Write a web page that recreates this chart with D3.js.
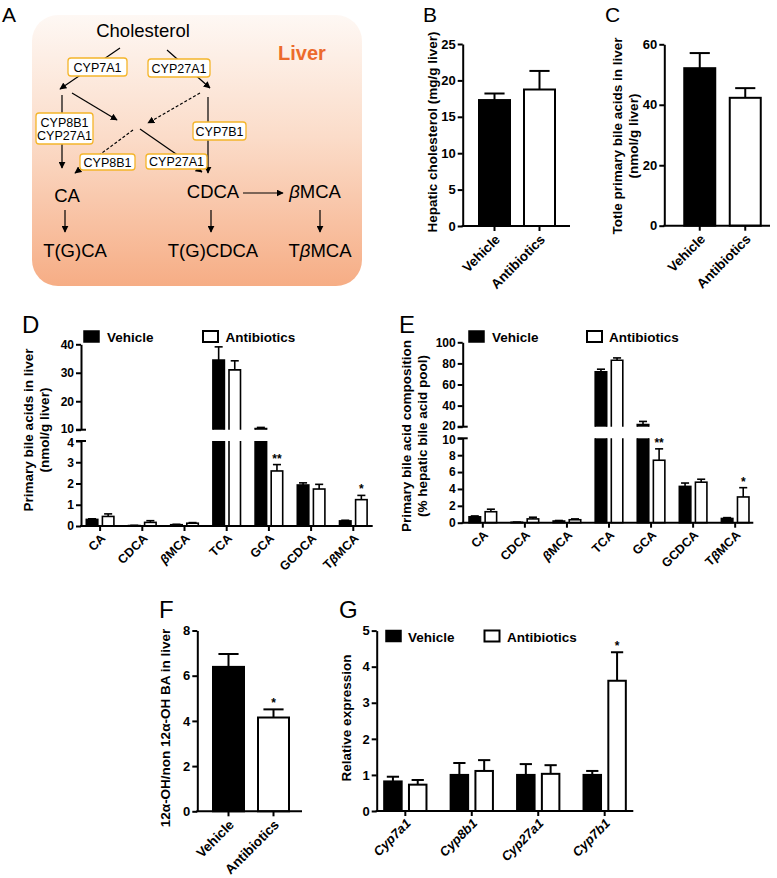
<!DOCTYPE html>
<html><head><meta charset="utf-8">
<script src="https://cdn.jsdelivr.net/npm/d3@7"></script>
<style>body{margin:0;background:#fff}svg{display:block}</style>
</head><body>
<svg id="fig" width="777" height="878"></svg>
<script>
// ---------------- DATA ----------------
const groups = ["Vehicle", "Antibiotics"];
// B
const cholesterolMean = [17.3, 18.75];
const cholesterolSem = [0.9, 2.55];
const cholesterolTicks = [0, 5, 10, 15, 20, 25];
// C
const totalPrimaryMean = [52.1, 42.3];
const totalPrimarySem = [5.0, 3.2];
const totalPrimaryTicks = [0, 20, 40, 60];
// D
const bileAcids = ["CA", "CDCA", "βMCA", "TCA", "GCA", "GCDCA", "TβMCA"];
const liverVehicle = [0.31, 0.02, 0.06, 34.5, 10.4, 1.93, 0.24];
const liverVehicleSem = [0.03, 0.01, 0.02, 4.6, 0.4, 0.1, 0.03];
const liverAntibiotics = [0.45, 0.17, 0.13, 31.0, 2.59, 1.74, 1.24];
const liverAntibioticsSem = [0.12, 0.08, 0.03, 3.2, 0.3, 0.22, 0.2];
const liverSig = ["", "", "", "", "**", "", "*"];
const liverTicksLow = [0, 1, 2, 3, 4];
const liverTicksHigh = [10, 20, 30, 40];
// E
const compVehicle = [0.7, 0.05, 0.2, 72, 22, 4.3, 0.5];
const compVehicleSem = [0.1, 0.02, 0.06, 2.5, 3.0, 0.4, 0.1];
const compAntibiotics = [1.3, 0.45, 0.35, 83, 7.4, 4.8, 3.05];
const compAntibioticsSem = [0.3, 0.2, 0.1, 2.2, 1.35, 0.35, 1.1];
const compSig = ["", "", "", "", "**", "", "*"];
const compTicksLow = [0, 2, 4, 6, 8, 10];
const compTicksHigh = [20, 40, 60, 80, 100];
// F
const ratioMean = [6.39, 4.15];
const ratioSem = [0.57, 0.36];
const ratioSig = ["", "*"];
const ratioTicks = [0, 2, 4, 6, 8];
// G
const genes = ["Cyp7a1", "Cyp8b1", "Cyp27a1", "Cyp7b1"];
const geneVehicle = [0.82, 1.0, 1.0, 1.0];
const geneVehicleSem = [0.13, 0.33, 0.3, 0.11];
const geneAntibiotics = [0.73, 1.11, 1.03, 3.61];
const geneAntibioticsSem = [0.13, 0.3, 0.24, 0.79];
const geneSig = ["", "", "", "*"];
const geneTicks = [0, 1, 2, 3, 4, 5];

// ---------------- HELPERS ----------------
const FONT = '"Liberation Sans", Arial, Helvetica, sans-serif';
const svg = d3.select("#fig");
svg.append("rect").attr("width", 777).attr("height", 878).attr("fill", "#fff");

function styleAxis(a, size) {
  a.attr("font-family", FONT);
  a.select(".domain").attr("stroke", "#000").attr("stroke-width", 2);
  a.selectAll(".tick line").attr("stroke", "#000").attr("stroke-width", 2);
  a.selectAll(".tick text").attr("font-family", FONT).attr("font-weight", "bold")
    .attr("font-size", size || 13).attr("fill", "#000");
}
function yAxis(scale, ticks, x, size) {
  const a = svg.append("g").attr("transform", `translate(${x},0)`)
    .call(d3.axisLeft(scale).tickValues(ticks).tickFormat(d3.format("d"))
      .tickSize(5).tickSizeOuter(0).tickPadding(2));
  styleAxis(a, size);
  return a;
}
function xAxis(band, y, x0, x1, opts) {
  svg.append("line").attr("x1", x0 - 1).attr("x2", x1).attr("y1", y).attr("y2", y)
    .attr("stroke", "#000").attr("stroke-width", 2);
  const a = svg.append("g").attr("transform", `translate(0,${y})`)
    .call(d3.axisBottom(band).tickSize(5).tickSizeOuter(0));
  a.select(".domain").remove();
  styleAxis(a, opts.size);
  a.selectAll(".tick text")
    .attr("y", 0).attr("dy", "0.35em").attr("text-anchor", "end")
    .attr("transform", `translate(${opts.dx},${opts.dy}) rotate(-45)`)
    .attr("font-style", opts.italic ? "italic" : "normal")
    .each(function (d) {
      const t = d3.select(this);
      if (d.includes("β")) {
        t.text(null);
        const parts = d.split("β");
        t.append("tspan").text(parts[0]);
        t.append("tspan").attr("font-style", "italic").text("β");
        t.append("tspan").text(parts[1]);
      }
    });
  return a;
}
function yTitle(lines, cx, cy, size) {
  lines.forEach((l, i) => {
    svg.append("text").attr("transform", `translate(${l.x},${cy}) rotate(-90)`)
      .attr("text-anchor", "middle").attr("dy", "0.35em")
      .attr("font-family", FONT).attr("font-weight", "bold").attr("font-size", size || 13.5)
      .text(l.t);
  });
}
function panelLetter(t, x, y, size) {
  svg.append("text").attr("x", x).attr("y", y).attr("font-family", FONT)
    .attr("font-size", size).text(t);
}
function errBar(cx, yv, ye, capW, sw) {
  svg.append("line").attr("x1", cx).attr("x2", cx).attr("y1", yv).attr("y2", ye)
    .attr("stroke", "#000").attr("stroke-width", sw);
  svg.append("line").attr("x1", cx - capW / 2).attr("x2", cx + capW / 2).attr("y1", ye).attr("y2", ye)
    .attr("stroke", "#000").attr("stroke-width", sw);
}
function star(t, cx, y) {
  svg.append("text").attr("x", cx).attr("y", y).attr("text-anchor", "middle")
    .attr("font-family", FONT).attr("font-weight", "bold").attr("font-size", 12).text(t);
}
function simpleBars(band, y, means, sems, sigs, bw) {
  const fills = ["#000", "#fff"];
  groups.forEach((gname, i) => {
    const cx = band(gname) + band.bandwidth() / 2;
    const ye = y(means[i] + sems[i]);
    errBar(cx, y(means[i]), ye, bw * 0.65, 2);
    svg.append("rect").attr("x", cx - bw / 2).attr("y", y(means[i]))
      .attr("width", bw).attr("height", y(0) - y(means[i]))
      .attr("fill", fills[i]).attr("stroke", "#000").attr("stroke-width", 2);
    if (sigs && sigs[i]) star(sigs[i], cx, ye - 2);
  });
}
function legend(x1, x2, xt1, xt2, y, h) {
  svg.append("rect").attr("x", x1).attr("y", y).attr("width", 15).attr("height", h)
    .attr("fill", "#000").attr("stroke", "#000").attr("stroke-width", 1.5);
  svg.append("text").attr("x", xt1).attr("y", y + h).attr("font-family", FONT)
    .attr("font-weight", "bold").attr("font-size", 13.5).text(groups[0]);
  svg.append("rect").attr("x", x2).attr("y", y).attr("width", 15).attr("height", h)
    .attr("fill", "#fff").attr("stroke", "#000").attr("stroke-width", 2);
  svg.append("text").attr("x", xt2).attr("y", y + h).attr("font-family", FONT)
    .attr("font-weight", "bold").attr("font-size", 13.5).text(groups[1]);
}
// grouped bars, optionally with broken axis
function groupedBars(cats, band, series, low, high, sigs, bw, gap, sw) {
  const lowMax = low.domain()[1];
  const highMin = high ? high.domain()[0] : Infinity;
  cats.forEach((c, i) => {
    const cx = band(c) + band.bandwidth() / 2;
    series.forEach((s, k) => {
      const v = s.vals[i], e = s.errs[i];
      const bx = k === 0 ? cx - gap / 2 - bw : cx + gap / 2;
      const bc = bx + bw / 2;
      const base = low(0);
      const topLow = low(Math.min(v, lowMax));
      let yv, ye;
      if (high && v > highMin) { yv = high(v); ye = high(v + e); }
      else { yv = low(v); ye = low(v + e); }
      errBar(bc, yv, ye, bw * 0.7, sw);
      if (high && v > lowMax) {
        svg.append("path").attr("d", `M${bx},${topLow}L${bx},${base}L${bx + bw},${base}L${bx + bw},${topLow}`)
          .attr("fill", s.fill).attr("stroke", "#000").attr("stroke-width", sw);
        const hb = high(highMin);
        svg.append("path").attr("d", `M${bx},${hb}L${bx},${yv}L${bx + bw},${yv}L${bx + bw},${hb}`)
          .attr("fill", s.fill).attr("stroke", "#000").attr("stroke-width", sw);
      } else {
        svg.append("rect").attr("x", bx).attr("y", topLow).attr("width", bw)
          .attr("height", Math.max(0, base - topLow))
          .attr("fill", s.fill).attr("stroke", "#000").attr("stroke-width", sw);
      }
      if (k === 1 && sigs[i]) star(sigs[i], bc, ye - 2);
    });
  });
}
function brokenYAxis(low, high, tl, th, x) {
  const aLow = yAxis(low, tl, x, 12);
  const aHigh = yAxis(high, th, x, 12);
  // nudge the two labels at the break apart slightly
  aLow.selectAll(".tick").filter(d => d === low.domain()[1]).select("text").attr("dy", "0.45em");
  aHigh.selectAll(".tick").filter(d => d === high.domain()[0]).select("text").attr("dy", "0.22em");
  [low(low.domain()[1]), high(high.domain()[0])].forEach(y => {
    svg.append("line").attr("x1", x - 5).attr("x2", x + 5).attr("y1", y).attr("y2", y)
      .attr("stroke", "#000").attr("stroke-width", 2);
  });
}

// ---------------- PANEL A ----------------
const defs = svg.append("defs");
const grad = defs.append("linearGradient").attr("id", "liverGrad").attr("x1", 0).attr("y1", 0).attr("x2", 0).attr("y2", 1);
grad.append("stop").attr("offset", "0%").attr("stop-color", "#fef8f4");
grad.append("stop").attr("offset", "45%").attr("stop-color", "#fbdcc9");
grad.append("stop").attr("offset", "100%").attr("stop-color", "#f6ad85");
defs.append("marker").attr("id", "arr").attr("viewBox", "0 0 10 10").attr("refX", 9).attr("refY", 5)
  .attr("markerWidth", 7).attr("markerHeight", 7).attr("markerUnits", "userSpaceOnUse").attr("orient", "auto")
  .append("path").attr("d", "M0,0L10,5L0,10Z").attr("fill", "#000");

panelLetter("A", 2, 22, 21);
svg.append("rect").attr("x", 32).attr("y", 15).attr("width", 330).attr("height", 271).attr("rx", 26)
  .attr("fill", "url(#liverGrad)");

const pathways = [
  { p: [120, 48, 60, 89], dash: false },
  { p: [167, 50, 210, 88], dash: false },
  { p: [62, 95, 62, 168], dash: false },
  { p: [72, 93, 117, 120], dash: false },
  { p: [200, 93, 148, 123], dash: true },
  { p: [208, 97, 208, 173], dash: false },
  { p: [133, 130, 75, 173], dash: true },
  { p: [140, 129, 202, 172], dash: false },
  { p: [243, 193, 283, 193], dash: false },
  { p: [65, 210, 65, 232], dash: false },
  { p: [211, 210, 211, 232], dash: false },
  { p: [320, 210, 320, 232], dash: false }
];
pathways.forEach(a => {
  svg.append("line").attr("x1", a.p[0]).attr("y1", a.p[1]).attr("x2", a.p[2]).attr("y2", a.p[3])
    .attr("stroke", "#000").attr("stroke-width", 1.2)
    .attr("stroke-dasharray", a.dash ? "3,2" : null).attr("marker-end", "url(#arr)");
});
const enzymes = [
  { t: ["CYP7A1"], x: 68, y: 58, w: 59, h: 18 },
  { t: ["CYP27A1"], x: 148, y: 59, w: 62, h: 18 },
  { t: ["CYP8B1", "CYP27A1"], x: 36, y: 113, w: 57, h: 31 },
  { t: ["CYP7B1"], x: 193, y: 122, w: 53, h: 18 },
  { t: ["CYP8B1"], x: 80, y: 154, w: 55, h: 16 },
  { t: ["CYP27A1"], x: 146, y: 154, w: 61, h: 15 }
];
enzymes.forEach(e => {
  svg.append("rect").attr("x", e.x).attr("y", e.y).attr("width", e.w).attr("height", e.h).attr("rx", 3)
    .attr("fill", "#fff").attr("stroke", "#f4b52a").attr("stroke-width", 1.3);
  e.t.forEach((t, i) => {
    svg.append("text").attr("x", e.x + e.w / 2).attr("y", e.y + e.h / 2 + (i - (e.t.length - 1) / 2) * 13)
      .attr("dy", "0.36em").attr("text-anchor", "middle").attr("font-family", FONT).attr("font-size", 12.5).text(t);
  });
});
const metabolites = [
  { t: "Cholesterol", x: 143, y: 37 },
  { t: "CA", x: 67, y: 202 },
  { t: "CDCA", x: 213, y: 198 },
  { t: "βMCA", x: 315, y: 198 },
  { t: "T(G)CA", x: 75, y: 257 },
  { t: "T(G)CDCA", x: 213, y: 257 },
  { t: "TβMCA", x: 320, y: 257 }
];
metabolites.forEach(m => {
  const t = svg.append("text").attr("x", m.x).attr("y", m.y).attr("text-anchor", "middle")
    .attr("font-family", FONT).attr("font-size", 18.5);
  if (m.t.includes("β")) {
    const parts = m.t.split("β");
    t.append("tspan").text(parts[0]);
    t.append("tspan").attr("font-style", "italic").text("β");
    t.append("tspan").text(parts[1]);
  } else t.text(m.t);
});
svg.append("text").attr("x", 278).attr("y", 60).attr("font-family", FONT).attr("font-weight", "bold")
  .attr("font-size", 20).attr("fill", "#ec6a2b").text("Liver");

// ---------------- PANEL B ----------------
panelLetter("B", 423, 22, 21);
const yB = d3.scaleLinear().domain([0, 25]).range([226, 44]);
const xB = d3.scaleBand().domain(groups).range([472, 562]);
simpleBars(xB, yB, cholesterolMean, cholesterolSem, null, 31);
yAxis(yB, cholesterolTicks, 462.7);
xAxis(xB, 226, 462.7, 570, { dx: 3, dy: 11, size: 13.5 });
yTitle([{ t: "Hepatic cholesterol  (mg/g liver)", x: 432 }], 0, 132, 13.5);

// ---------------- PANEL C ----------------
panelLetter("C", 605, 22, 21);
const yC = d3.scaleLinear().domain([0, 60]).range([225.7, 44.3]);
const xC = d3.scaleBand().domain(groups).range([677, 768]);
simpleBars(xC, yC, totalPrimaryMean, totalPrimarySem, null, 31);
yAxis(yC, totalPrimaryTicks, 664.3);
xAxis(xC, 225.7, 664.3, 770, { dx: 3, dy: 11, size: 13.5 });
yTitle([{ t: "Totle primary bile acids in liver", x: 617 }, { t: "(nmol/g liver)", x: 633 }], 0, 136, 13.5);

// ---------------- PANEL D ----------------
panelLetter("D", 22, 333, 24);
const yDlow = d3.scaleLinear().domain([0, 4]).range([526, 441]);
const yDhigh = d3.scaleLinear().domain([10, 40]).range([429.7, 344.3]);
const xD = d3.scaleBand().domain(bileAcids).range([79, 374.4]);
groupedBars(bileAcids, xD, [
  { vals: liverVehicle, errs: liverVehicleSem, fill: "#000" },
  { vals: liverAntibiotics, errs: liverAntibioticsSem, fill: "#fff" }
], yDlow, yDhigh, liverSig, 11.5, 4.6, 1.6);
brokenYAxis(yDlow, yDhigh, liverTicksLow, liverTicksHigh, 81);
xAxis(xD, 526, 81, 372.7, { dx: 3, dy: 10, size: 12.5 });
yTitle([{ t: "Primary bile acids in liver", x: 28 }, { t: "(nmol/g liver)", x: 44 }], 0, 430, 13.5);
legend(84, 203, 107, 225.5, 331, 11);

// ---------------- PANEL E ----------------
panelLetter("E", 399, 333, 24);
const yElow = d3.scaleLinear().domain([0, 10]).range([522.7, 438.3]);
const yEhigh = d3.scaleLinear().domain([20, 100]).range([426.7, 342.3]);
const xE = d3.scaleBand().domain(bileAcids).range([461.8, 756.2]);
groupedBars(bileAcids, xE, [
  { vals: compVehicle, errs: compVehicleSem, fill: "#000" },
  { vals: compAntibiotics, errs: compAntibioticsSem, fill: "#fff" }
], yElow, yEhigh, compSig, 11.5, 4.6, 1.6);
brokenYAxis(yElow, yEhigh, compTicksLow, compTicksHigh, 462.7);
xAxis(xE, 522.7, 462.7, 753.3, { dx: 3, dy: 10, size: 12.5 });
yTitle([{ t: "Primary bile acid composition", x: 406 }, { t: "(% hepatic bile acid pool)", x: 422 }], 0, 436, 13.5);
legend(469, 587, 492, 609, 331, 11);

// ---------------- PANEL F ----------------
panelLetter("F", 159, 618, 24);
const yF = d3.scaleLinear().domain([0, 8]).range([811.3, 630.5]);
const xF = d3.scaleBand().domain(groups).range([206, 296]);
simpleBars(xF, yF, ratioMean, ratioSem, ratioSig, 31);
yAxis(yF, ratioTicks, 197.3);
xAxis(xF, 811.3, 197.3, 302, { dx: 3, dy: 11, size: 13.5 });
yTitle([{ t: "12α-OH/non 12α-OH BA in liver", x: 165 }], 0, 728, 13.5);

// ---------------- PANEL G ----------------
panelLetter("G", 339, 618, 24);
const yG = d3.scaleLinear().domain([0, 5]).range([811, 630.6]);
const xG = d3.scaleBand().domain(genes).range([372.1, 637.9]);
groupedBars(genes, xG, [
  { vals: geneVehicle, errs: geneVehicleSem, fill: "#000" },
  { vals: geneAntibiotics, errs: geneAntibioticsSem, fill: "#fff" }
], yG, null, geneSig, 17.5, 7.3, 2);
yAxis(yG, geneTicks, 376.7);
xAxis(xG, 811, 376.7, 633.3, { dx: 3, dy: 10, size: 13, italic: true });
yTitle([{ t: "Relative expression", x: 346.7 }], 0, 718, 13.5);
legend(386, 484.5, 408, 507, 630.5, 11);
</script>
</body></html>
